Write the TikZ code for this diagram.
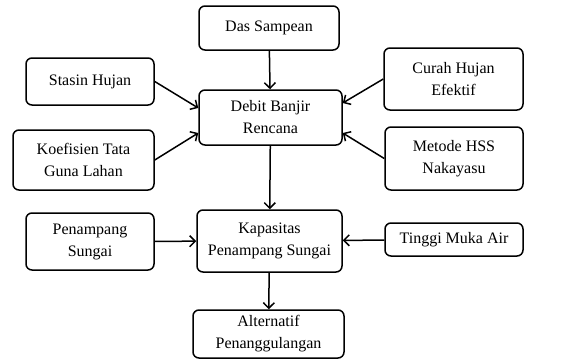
\documentclass[tikz,border=0pt]{standalone}
\usepackage{fontspec}
\setmainfont{Liberation Serif}
\usetikzlibrary{positioning,arrows.meta}

\begin{document}
\begin{tikzpicture}[x=1pt, y=-1pt,
    box/.style={draw, rounded corners=6pt, line width=1.5pt, align=center,
        inner sep=0pt, font=\fontsize{16}{22}\selectfont},
    flow/.style={-{Straight Barb[length=5.5pt,width=11pt]}, line width=1.5pt}]
    \useasboundingbox (0,0) rectangle (569,359);

    % centre column
    \node[box, minimum width=140pt, minimum height=44pt] (das) at (269,28) {Das Sampean};
    \node[box, minimum width=143pt, minimum height=55pt] (debit) at (270.5,117.5) {Debit Banjir\\Rencana};
    \node[box, minimum width=145pt, minimum height=62pt] (kapasitas) at (269.5,241) {Kapasitas\\Penampang Sungai};
    \node[box, minimum width=151pt, minimum height=48pt] (alternatif) at (268.5,334) {Alternatif\\Penanggulangan};

    % left column
    \node[box, minimum width=128pt, minimum height=47pt] (stasin) at (90,81.5) {Stasin Hujan};
    \node[box, minimum width=141pt, minimum height=60pt] (koef) at (83.5,160) {Koefisien Tata\\Guna Lahan};
    \node[box, minimum width=128pt, minimum height=57pt] (penampang) at (90,241.5) {Penampang\\Sungai};

    % right column
    \node[box, minimum width=139pt, minimum height=62pt] (curah) at (453.5,79) {Curah Hujan\\Efektif};
    \node[box, minimum width=138pt, minimum height=63pt] (metode) at (454,158.5) {Metode HSS\\Nakayasu};
    \node[box, minimum width=138pt, minimum height=33pt] (tinggi) at (454,239.5) {Tinggi Muka Air};

    % inputs to debit
    \draw[flow] (das) -- (debit);
    \draw[flow] (stasin.east) -- (debit.west |- 0,108);
    \draw[flow] (koef.east) -- (debit.west |- 0,133);
    \draw[flow] (curah.west) -- (debit.east |- 0,103);
    \draw[flow] (metode.west) -- (debit.east |- 0,133);

    % kapasitas
    \draw[flow] (debit) -- (kapasitas);
    \draw[flow] (penampang) -- (kapasitas);
    \draw[flow] (tinggi) -- (kapasitas);
    \draw[flow] (kapasitas) -- (alternatif);
\end{tikzpicture}
\end{document}
